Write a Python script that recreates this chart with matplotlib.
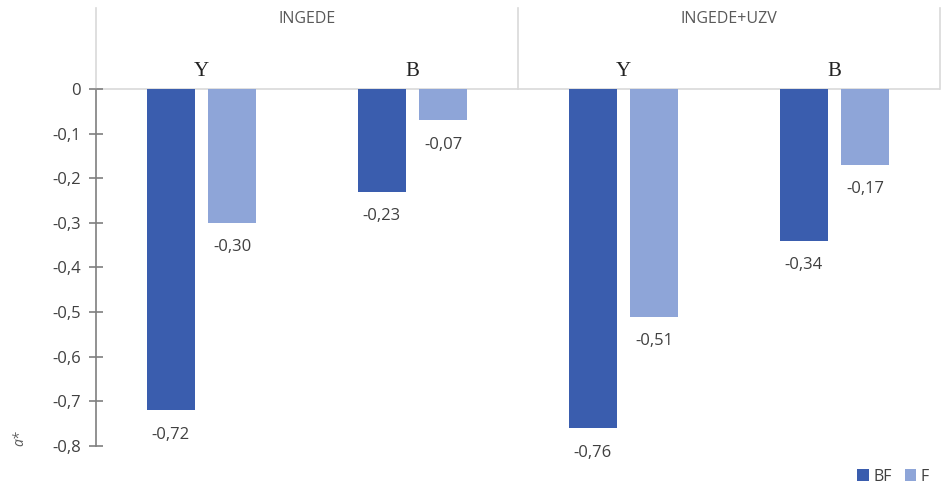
import matplotlib.pyplot as plt
import numpy as np

# a* shift values per sample group
groups = ['INGEDE', 'INGEDE+UZV']
categories = ['Y', 'B', 'Y', 'B']
bf_values = [-0.72, -0.23, -0.76, -0.34]
f_values = [-0.30, -0.07, -0.51, -0.17]
yticks = [0, -0.1, -0.2, -0.3, -0.4, -0.5, -0.6, -0.7, -0.8]

bf_color = '#3A5DAE'
f_color = '#8EA5D8'
text_gray = '#404040'
line_gray = '#D9D9D9'

plt.rcParams['font.family'] = ['Open Sans', 'DejaVu Sans']

fig = plt.figure(figsize=(9.48, 4.99), dpi=100)
ax = fig.add_axes([96 / 948, 53 / 499, 844 / 948, 441 / 499])

x = np.arange(len(categories)) + 0.5
w = 0.226
off = 0.146
bars_bf = ax.bar(x - off, bf_values, w, color=bf_color, label='BF', zorder=3)
bars_f = ax.bar(x + off, f_values, w, color=f_color, label='F', zorder=3)

# value labels under each bar
for bars, vals in [(bars_bf, bf_values), (bars_f, f_values)]:
    for b, v in zip(bars, vals):
        ax.annotate(f'{v:.2f}'.replace('.', ','),
                    (b.get_x() + b.get_width() / 2, v),
                    xytext=(0, -12), textcoords='offset points',
                    ha='center', va='top', fontsize=12, color=text_gray)

top = 0.182
ax.set_xlim(0, 4)
ax.set_ylim(-0.8, 0.188)

# header: zero line, group separators, labels
ax.axhline(0, color=line_gray, lw=1.2, zorder=1)
for xv in [0, 2, 4]:
    ax.plot([xv, xv], [0, top], color=line_gray, lw=1.2, clip_on=False)
for i, g in enumerate(groups):
    ax.text(2 * i + 1, 0.157, g, ha='center', va='center', fontsize=11.5,
            color='#595959')
for xi, c in zip(x, categories):
    ax.text(xi, 0.04, c, ha='center', va='center', fontsize=15,
            family='Liberation Serif', color='#222222')

ax.set_yticks(yticks)
ax.set_yticklabels([f'{t:.1f}'.replace('.', ',') if t != 0 else '0' for t in yticks],
                   fontsize=12, color=text_gray)
ax.tick_params(axis='y', direction='inout', length=10, width=1.2, color='#7F7F7F', pad=6)
ax.set_xticks([])
for s in ['top', 'right', 'bottom']:
    ax.spines[s].set_visible(False)
ax.spines['left'].set_bounds(-0.8, 0)
ax.spines['left'].set_color('#7F7F7F')
ax.spines['left'].set_linewidth(1.2)

fig.text(20 / 948, 1 - 438 / 499, 'a*', rotation=90, ha='center', va='center',
         fontsize=10, style='italic', color='#595959')

fig.legend(handles=[bars_bf, bars_f], loc='lower right', bbox_to_anchor=(0.995, 0.0),
           ncol=2, frameon=False, fontsize=11.5, handlelength=0.7, handleheight=0.7,
           handletextpad=0.3, columnspacing=0.8, labelcolor='#404040')

fig.savefig('out.png', dpi=100)
